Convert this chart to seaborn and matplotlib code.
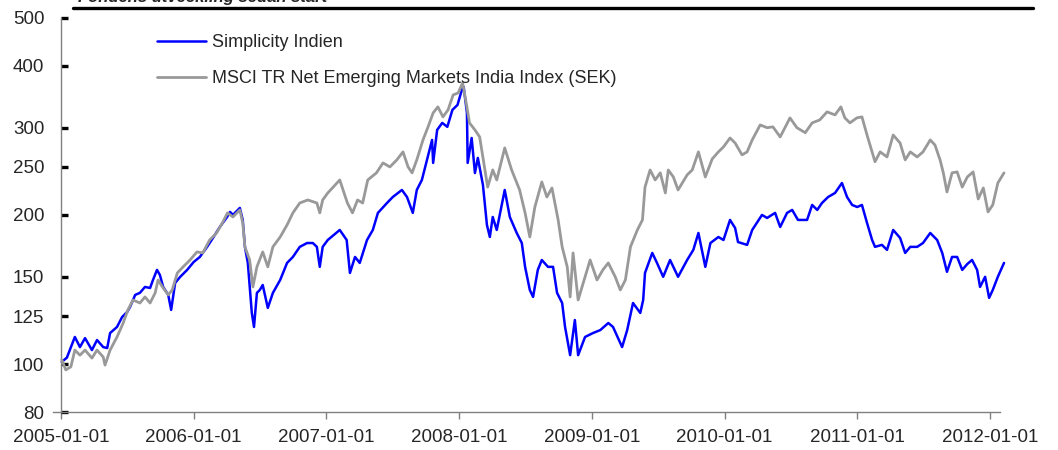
import pandas as pd
import numpy as np
import matplotlib.pyplot as plt
import matplotlib.dates as mdates
from matplotlib.lines import Line2D
from matplotlib.ticker import FixedLocator, NullLocator
import seaborn as sns

# values (index, start = 100)
simplicity_dates = [
    "2005-01-03", "2005-01-17", "2005-02-08", "2005-02-22", "2005-03-08", "2005-03-27",
    "2005-04-10", "2005-04-27", "2005-05-08", "2005-05-16", "2005-06-04", "2005-06-18",
    "2005-07-02", "2005-07-10", "2005-07-24", "2005-08-06", "2005-08-20", "2005-09-03",
    "2005-09-11", "2005-09-22", "2005-09-30", "2005-10-09", "2005-10-23", "2005-10-31",
    "2005-11-11", "2005-11-25", "2005-12-14", "2006-01-01", "2006-01-18", "2006-02-07",
    "2006-02-23", "2006-03-14", "2006-04-03", "2006-04-11", "2006-04-19", "2006-05-08",
    "2006-05-16", "2006-05-22", "2006-05-30", "2006-06-10", "2006-06-16", "2006-06-24",
    "2006-07-02", "2006-07-10", "2006-07-24", "2006-08-07", "2006-08-27", "2006-09-15",
    "2006-10-01", "2006-10-20", "2006-11-09", "2006-11-25", "2006-12-06", "2006-12-14",
    "2006-12-22", "2007-01-05", "2007-02-07", "2007-02-26", "2007-03-07", "2007-03-21",
    "2007-04-03", "2007-04-23", "2007-05-09", "2007-05-23", "2007-06-17", "2007-07-03",
    "2007-07-28", "2007-08-11", "2007-08-27", "2007-09-07", "2007-09-21", "2007-10-05",
    "2007-10-19", "2007-10-22", "2007-11-02", "2007-11-16", "2007-11-30", "2007-12-14",
    "2007-12-28", "2008-01-09", "2008-01-14", "2008-01-23", "2008-01-25", "2008-02-05",
    "2008-02-14", "2008-02-22", "2008-03-07", "2008-03-18", "2008-03-26", "2008-04-03",
    "2008-04-14", "2008-05-06", "2008-05-20", "2008-06-08", "2008-06-22", "2008-07-01",
    "2008-07-14", "2008-07-23", "2008-08-05", "2008-08-16", "2008-09-02", "2008-09-16",
    "2008-09-27", "2008-10-11", "2008-10-19", "2008-11-02", "2008-11-15", "2008-11-24",
    "2008-12-13", "2009-01-04", "2009-01-24", "2009-02-15", "2009-02-28", "2009-03-25",
    "2009-04-08", "2009-04-24", "2009-05-14", "2009-05-22", "2009-05-27", "2009-06-16",
    "2009-06-29", "2009-07-16", "2009-08-04", "2009-08-26", "2009-09-20", "2009-10-07",
    "2009-10-21", "2009-11-09", "2009-11-23", "2009-12-15", "2009-12-29", "2010-01-16",
    "2010-01-30", "2010-02-07", "2010-03-04", "2010-03-18", "2010-04-14", "2010-04-28",
    "2010-05-20", "2010-06-03", "2010-06-22", "2010-07-06", "2010-07-22", "2010-08-16",
    "2010-08-30", "2010-09-13", "2010-09-26", "2010-10-13", "2010-11-01", "2010-11-20",
    "2010-12-04", "2010-12-18", "2011-01-01", "2011-01-14", "2011-01-28", "2011-02-11",
    "2011-02-19", "2011-03-10", "2011-03-24", "2011-04-10", "2011-04-29", "2011-05-13",
    "2011-05-27", "2011-06-15", "2011-07-01", "2011-07-21", "2011-08-09", "2011-08-23",
    "2011-09-05", "2011-09-19", "2011-10-03", "2011-10-17", "2011-10-31", "2011-11-13",
    "2011-11-27", "2011-12-05", "2011-12-19", "2011-12-30", "2012-01-09", "2012-01-23",
    "2012-02-09",
]
simplicity_values = [
    101, 103, 113.4, 108.2, 112.8, 106.7,
    111.8, 108.2, 107.7, 115.5, 118.8, 124.4,
    127.4, 130.4, 137.9, 139.2, 143.1, 142.4,
    147.8, 154.9, 151.3, 143.1, 137.9, 128.6,
    145.8, 150.0, 154.9, 160.7, 164.5, 172.4,
    179.7, 189.1, 198.1, 202.8, 200.0, 206.6,
    195.4, 172.4, 160.0, 126.8, 118.8, 139.2,
    141.1, 144.4, 129.8, 139.2, 147.8, 160.0,
    164.5, 172.4, 175.5, 175.5, 172.4, 157.1,
    172.4, 178.0, 186.5, 178.0, 152.7, 164.5,
    160.0, 178.0, 186.5, 201.9, 211.4, 217.4,
    224.6, 217.4, 201.9, 224.6, 235.3, 258.3,
    283.4, 254.7, 296.9, 306.8, 301.2, 325.9,
    333.5, 357.6, 362.6, 321.4, 254.7, 286.0,
    243.0, 260.7, 229.9, 190.9, 180.5, 198.1,
    186.5, 224.6, 198.1, 183.9, 175.5, 157.1,
    141.1, 136.6, 154.9, 162.2, 157.1, 157.1,
    139.2, 132.8, 118.8, 104.2, 122.7, 104.2,
    113.4, 115.5, 117.1, 121.0, 118.8, 108.2,
    117.1, 132.8, 126.8, 134.7, 152.7, 167.6,
    160.0, 150.0, 162.2, 150.0, 162.2, 170.0,
    183.9, 157.1, 175.5, 180.5, 178.0, 195.4,
    188.2, 176.3, 174.0, 186.5, 200.0, 197.2,
    201.9, 189.1, 201.9, 204.7, 195.4, 195.4,
    209.5, 204.7, 211.4, 217.4, 221.5, 232.0,
    217.4, 209.5, 207.5, 209.5, 192.7, 178.0,
    172.4, 174.0, 170.0, 186.5, 179.7, 167.6,
    172.4, 172.4, 175.5, 183.9, 178.0, 167.6,
    153.5, 164.5, 164.5, 154.9, 159.2, 162.2,
    154.9, 143.1, 150.0, 136.0, 141.1, 150.0,
    160.0,
]

msci_dates = [
    "2005-01-03", "2005-01-14", "2005-01-28", "2005-02-08", "2005-02-22", "2005-03-08",
    "2005-03-27", "2005-04-10", "2005-04-27", "2005-05-02", "2005-05-16", "2005-06-04",
    "2005-06-21", "2005-07-04", "2005-07-18", "2005-08-06", "2005-08-20", "2005-09-03",
    "2005-09-17", "2005-09-25", "2005-10-09", "2005-10-23", "2005-11-03", "2005-11-17",
    "2005-12-03", "2005-12-22", "2006-01-10", "2006-01-26", "2006-02-14", "2006-03-05",
    "2006-03-21", "2006-04-04", "2006-04-19", "2006-05-08", "2006-05-16", "2006-05-22",
    "2006-06-04", "2006-06-13", "2006-06-24", "2006-07-10", "2006-07-24", "2006-08-07",
    "2006-08-27", "2006-09-15", "2006-10-01", "2006-10-20", "2006-11-11", "2006-12-06",
    "2006-12-14", "2006-12-22", "2007-01-05", "2007-02-07", "2007-02-28", "2007-03-14",
    "2007-03-28", "2007-04-11", "2007-04-25", "2007-05-19", "2007-06-06", "2007-06-25",
    "2007-07-14", "2007-07-31", "2007-08-14", "2007-08-25", "2007-09-07", "2007-09-24",
    "2007-10-08", "2007-10-22", "2007-11-04", "2007-11-18", "2007-12-02", "2007-12-16",
    "2007-12-30", "2008-01-11", "2008-01-22", "2008-01-30", "2008-02-14", "2008-02-27",
    "2008-03-11", "2008-03-20", "2008-04-03", "2008-04-14", "2008-05-06", "2008-05-25",
    "2008-06-16", "2008-07-01", "2008-07-14", "2008-07-28", "2008-08-16", "2008-08-30",
    "2008-09-13", "2008-09-30", "2008-10-11", "2008-10-25", "2008-11-02", "2008-11-10",
    "2008-11-24", "2008-12-13", "2008-12-27", "2009-01-15", "2009-01-31", "2009-02-15",
    "2009-03-06", "2009-03-20", "2009-04-03", "2009-04-17", "2009-05-06", "2009-05-20",
    "2009-05-27", "2009-06-10", "2009-06-24", "2009-07-08", "2009-07-22", "2009-07-30",
    "2009-08-13", "2009-08-26", "2009-09-20", "2009-10-04", "2009-10-21", "2009-11-09",
    "2009-11-28", "2009-12-15", "2009-12-29", "2010-01-16", "2010-01-30", "2010-02-18",
    "2010-03-04", "2010-03-18", "2010-04-09", "2010-04-28", "2010-05-14", "2010-06-03",
    "2010-06-30", "2010-07-19", "2010-08-11", "2010-08-30", "2010-09-20", "2010-10-10",
    "2010-11-01", "2010-11-17", "2010-11-28", "2010-12-12", "2010-12-31", "2011-01-14",
    "2011-01-28", "2011-02-11", "2011-02-19", "2011-03-05", "2011-03-24", "2011-04-10",
    "2011-04-29", "2011-05-13", "2011-05-27", "2011-06-15", "2011-07-01", "2011-07-21",
    "2011-08-03", "2011-08-17", "2011-08-26", "2011-09-05", "2011-09-19", "2011-10-03",
    "2011-10-17", "2011-10-31", "2011-11-16", "2011-11-30", "2011-12-14", "2011-12-27",
    "2012-01-09", "2012-01-23", "2012-02-09",
]
msci_values = [
    102.0, 97.3, 98.7, 106.7, 104.2, 106.7,
    102.8, 106.7, 103.3, 99.5, 106.7, 113.4,
    121.0, 128.6, 134.7, 132.8, 136.6, 132.8,
    139.2, 147.8, 142.4, 137.9, 141.1, 152.7,
    157.1, 162.2, 168.4, 167.6, 178.0, 183.9,
    192.7, 201.9, 198.1, 204.7, 192.7, 172.4,
    162.2, 143.1, 157.1, 168.4, 157.1, 172.4,
    180.5, 190.9, 201.9, 211.4, 214.4, 211.4,
    201.9, 214.4, 221.5, 235.3, 211.4, 201.9,
    214.4, 211.4, 235.3, 243.2, 254.7, 250.0,
    258.3, 268.1, 250.0, 243.2, 258.3, 283.4,
    301.2, 321.4, 330.5, 315.5, 325.9, 349.4,
    352.7, 369.5, 333.5, 306.8, 296.9, 287.4,
    250.0, 227.6, 246.5, 235.3, 273.1, 246.5,
    224.6, 201.9, 180.5, 207.6, 233.1, 217.4,
    226.7, 195.4, 172.4, 157.1, 136.6, 167.6,
    134.7, 150.0, 162.2, 147.8, 154.9, 160.0,
    150.0, 141.1, 147.8, 172.4, 186.5, 195.4,
    227.6, 246.5, 235.3, 243.2, 221.5, 246.5,
    238.6, 224.6, 240.9, 246.5, 268.1, 238.6,
    259.5, 268.1, 274.4, 286.0, 279.4, 264.4,
    268.1, 283.4, 303.9, 300.0, 301.2, 287.4,
    314.0, 300.0, 293.1, 306.8, 311.1, 322.9,
    318.4, 330.5, 314.0, 306.8, 314.0, 315.5,
    290.0, 268.1, 256.1, 268.1, 261.9, 290.0,
    279.4, 258.3, 268.1, 261.9, 268.1, 283.4,
    276.8, 258.3, 243.2, 222.5, 243.2, 244.3,
    227.6, 238.6, 244.3, 215.4, 226.7, 202.8,
    209.5, 232.0, 243.2,
]

series_labels = ["Simplicity Indien", "MSCI TR Net Emerging Markets India Index (SEK)"]
y_ticks = [80, 100, 125, 150, 200, 250, 300, 400, 500]
x_ticks = ["2005-01-01", "2006-01-01", "2007-01-01", "2008-01-01",
           "2009-01-01", "2010-01-01", "2011-01-01", "2012-01-01"]
title = "Fondens utveckling sedan start"

simp = pd.DataFrame({"date": pd.to_datetime(simplicity_dates), "value": simplicity_values})
msci = pd.DataFrame({"date": pd.to_datetime(msci_dates), "value": msci_values})

sns.set_style("white")
plt.rcParams["font.family"] = ["Liberation Sans", "DejaVu Sans"]

fig = plt.figure(figsize=(10.58, 4.5), dpi=100)
ax = fig.add_axes([0.0577, 0.0844, 0.8875, 0.876])

sns.lineplot(data=simp, x="date", y="value", ax=ax, color="#0000ff",
             linewidth=1.8, label=series_labels[0], zorder=2)
sns.lineplot(data=msci, x="date", y="value", ax=ax, color="#999999",
             linewidth=2.0, label=series_labels[1], zorder=3)
for ln in ax.lines:
    ln.set_clip_on(False)

ax.set_yscale("log")
ax.set_ylim(80, 500)
ax.set_xlim(pd.Timestamp("2005-01-01"), pd.Timestamp("2012-01-29"))
ax.yaxis.set_major_locator(FixedLocator(y_ticks))
ax.yaxis.set_minor_locator(NullLocator())
ax.set_yticklabels([str(t) for t in y_ticks])
ax.set_xticks(pd.to_datetime(x_ticks))
ax.xaxis.set_major_formatter(mdates.DateFormatter("%Y-%m-%d"))
ax.set_xlabel("")
ax.set_ylabel("")

for s in ["top", "right"]:
    ax.spines[s].set_visible(False)
for s in ["left", "bottom"]:
    ax.spines[s].set_color("#808080")
    ax.spines[s].set_linewidth(1.0)
# bottom rule starts a little left of the value axis, as in the source
ax.spines["bottom"].set_bounds(mdates.date2num(pd.Timestamp("2004-12-10")),
                               mdates.date2num(pd.Timestamp("2012-01-29")))

ax.tick_params(axis="y", direction="in", length=5, width=2.4, color="black",
               labelsize=13.5, pad=12, left=True)
ax.tick_params(axis="x", direction="out", length=5, width=1, color="#808080",
               labelsize=13.5, pad=7, bottom=True)

leg = ax.legend(loc="upper left", bbox_to_anchor=(0.102, 0.958), frameon=False,
                fontsize=13, handlelength=2.7, handletextpad=0.35,
                labelspacing=1.05, borderpad=0, borderaxespad=0)

# header rule and (cropped) title
fig.add_artist(Line2D([0.069, 0.976], [0.982, 0.982], color="black", lw=2.4))
fig.text(0.074, 0.996, title, fontsize=12, fontweight="bold", style="italic",
         va="baseline", ha="left")

plt.savefig("out.png", dpi=100)
